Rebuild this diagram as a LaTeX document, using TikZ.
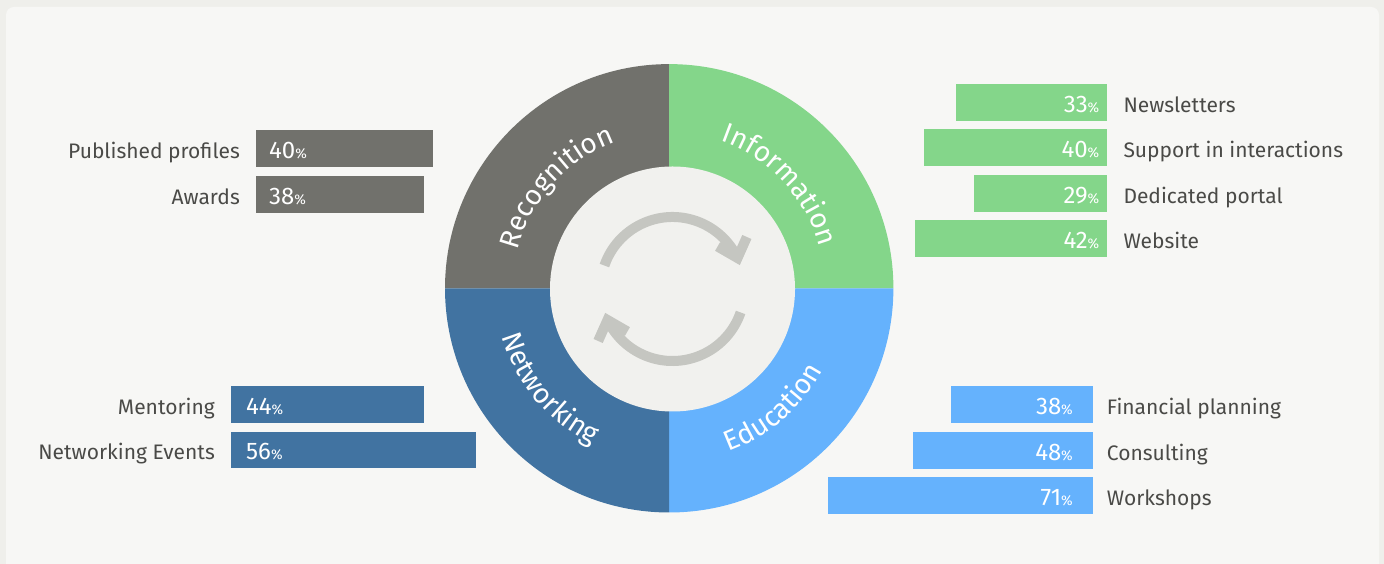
\documentclass[tikz,border=0pt]{standalone}
\usepackage{fontspec}
\setmainfont{Fira Sans}
\usetikzlibrary{calc,decorations.text}

\definecolor{pagebg}{HTML}{EFEFEB}
\definecolor{cardbg}{HTML}{F7F7F5}
\definecolor{recog}{HTML}{71716C}
\definecolor{info}{HTML}{84D68A}
\definecolor{netw}{HTML}{4173A1}
\definecolor{educ}{HTML}{65B2FD}
\definecolor{hub}{HTML}{F1F1EE}
\definecolor{cyclegray}{HTML}{C5C6C1}
\definecolor{labeltext}{HTML}{4A4A47}

\newcommand\pctsign{{\fontsize{14}{14}\selectfont\%}}

\tikzset{
  barbox/.style={rectangle, inner sep=0pt, minimum height=36.7pt},
  itemlabel/.style={inner sep=0pt, text=labeltext, font=\fontsize{21}{25}\selectfont},
  itemvalue/.style={inner sep=0pt, text=white, font=\fontsize{24}{28}\selectfont},
  ringtext/.style={decorate, decoration={text along path, text align=center,
      text color=white}},
  cyclearrow/.style={draw=cyclegray, line width=10pt, line cap=butt, line join=miter},
}

\begin{document}
\begin{tikzpicture}[x=1pt, y=1pt]
  % page and card
  \useasboundingbox (0,0) rectangle (1384,564);
  \fill[pagebg] (0,0) rectangle (1384,564);
  \begin{scope}
    \clip (0,0) rectangle (1384,564);
    \fill[cardbg, rounded corners=8pt] (6,-20) rectangle (1379,557);
  \end{scope}

  % ring of four quadrants
  \coordinate (C) at (669.2,275.7);
  \fill[recog] (C) -- ++(180:224.2) arc[start angle=180, end angle=90, radius=224.2] -- cycle;
  \fill[info]  (C) -- ++(90:224.2)  arc[start angle=90,  end angle=0,  radius=224.2] -- cycle;
  \fill[educ]  (C) -- ++(0:224.2)   arc[start angle=0,   end angle=-90, radius=224.2] -- cycle;
  \fill[netw]  (C) -- ++(270:224.2) arc[start angle=270, end angle=180, radius=224.2] -- cycle;

  % hub
  \coordinate (H) at (672.5,275);
  \fill[hub] (H) circle[radius=122.5];

  % ring captions
  \path[ringtext, decoration={text={|\fontsize{28}{28}\selectfont|Recognition}}]
    (C) ++(178:156) arc[start angle=178, end angle=98, radius=156];
  \path[ringtext, decoration={text={|\fontsize{28}{28}\selectfont|Information}}]
    (C) ++(83:156) arc[start angle=83, end angle=3, radius=156];
  \path[ringtext, decoration={text={|\fontsize{28}{28}\selectfont|Networking}}]
    (C) ++(180:174) arc[start angle=180, end angle=260, radius=174];
  \path[ringtext, decoration={text={|\fontsize{28}{28}\selectfont|Education}}]
    (C) ++(271:174) arc[start angle=271, end angle=351, radius=174];

  % cycle arrows in the hub
  \coordinate (V1) at ([shift={(65,31)}]H);
  \coordinate (V1a) at ([shift={(66:23)}]V1);
  \coordinate (V1b) at ([shift={(150:23)}]V1);
  \coordinate (V2) at ([shift={(-65,-31)}]H);
  \coordinate (V2a) at ([shift={(246:23)}]V2);
  \coordinate (V2b) at ([shift={(330:23)}]V2);
  \draw[cyclearrow] (H) ++(161:72) arc[start angle=161, end angle=25.5, radius=72];
  \draw[cyclearrow] (V1a) -- (V1) -- (V1b);
  \draw[cyclearrow] (H) ++(341:72) arc[start angle=341, end angle=205.5, radius=72];
  \draw[cyclearrow] (V2a) -- (V2) -- (V2b);

  % Recognition items
  \node[barbox, fill=recog, minimum width=176.7pt, anchor=west] (pp) at (256,415.7) {};
  \node[itemlabel, anchor=base east] (ppl) at (240,405.7) {Published profiles};
  \node[itemvalue, anchor=base west] (ppv) at (269,405.7) {40\pctsign};
  \node[barbox, fill=recog, minimum width=168pt, anchor=west] (aw) at (256,369.7) {};
  \node[itemlabel, anchor=base east] (awl) at (240,359.7) {Awards};
  \node[itemvalue, anchor=base west] (awv) at (269,359.7) {38\pctsign};

  % Information items
  \node[barbox, fill=info, minimum width=150.7pt, anchor=east] (nl) at (1106.7,461.7) {};
  \node[itemvalue, anchor=base east] (nlv) at (1099.5,451.7) {33\pctsign};
  \node[itemlabel, anchor=base west] (nll) at (1123.3,451.7) {Newsletters};
  \node[barbox, fill=info, minimum width=182.7pt, anchor=east] (si) at (1106.7,416.5) {};
  \node[itemvalue, anchor=base east] (siv) at (1099.5,406.5) {40\pctsign};
  \node[itemlabel, anchor=base west] (sil) at (1123.3,406.5) {Support in interactions};
  \node[barbox, fill=info, minimum width=132.7pt, anchor=east] (dp) at (1106.7,370.7) {};
  \node[itemvalue, anchor=base east] (dpv) at (1099.5,360.7) {29\pctsign};
  \node[itemlabel, anchor=base west] (dpl) at (1123.3,360.7) {Dedicated portal};
  \node[barbox, fill=info, minimum width=191.7pt, anchor=east] (ws) at (1106.7,325.7) {};
  \node[itemvalue, anchor=base east] (wsv) at (1099.5,315.7) {42\pctsign};
  \node[itemlabel, anchor=base west] (wsl) at (1123.3,315.7) {Website};

  % Networking items
  \node[barbox, fill=netw, minimum width=193pt, anchor=west] (me) at (231,159.3) {};
  \node[itemlabel, anchor=base east] (mel) at (215,149.3) {Mentoring};
  \node[itemvalue, anchor=base west] (mev) at (246,149.3) {44\pctsign};
  \node[barbox, fill=netw, minimum width=244.7pt, anchor=west] (ne) at (231,114) {};
  \node[itemlabel, anchor=base east] (nel) at (215,104) {Networking Events};
  \node[itemvalue, anchor=base west] (nev) at (246,104) {56\pctsign};

  % Education items
  \node[barbox, fill=educ, minimum width=141.7pt, anchor=east] (fp) at (1092.7,159.7) {};
  \node[itemvalue, anchor=base east] (fpv) at (1073,149.7) {38\pctsign};
  \node[itemlabel, anchor=base west] (fpl) at (1106.7,149.7) {Financial planning};
  \node[barbox, fill=educ, minimum width=179.7pt, anchor=east] (co) at (1092.7,113.7) {};
  \node[itemvalue, anchor=base east] (cov) at (1073,103.7) {48\pctsign};
  \node[itemlabel, anchor=base west] (col) at (1106.7,103.7) {Consulting};
  \node[barbox, fill=educ, minimum width=264.7pt, anchor=east] (wk) at (1092.7,68.7) {};
  \node[itemvalue, anchor=base east] (wkv) at (1073,58.7) {71\pctsign};
  \node[itemlabel, anchor=base west] (wkl) at (1106.7,58.7) {Workshops};
\end{tikzpicture}
\end{document}
